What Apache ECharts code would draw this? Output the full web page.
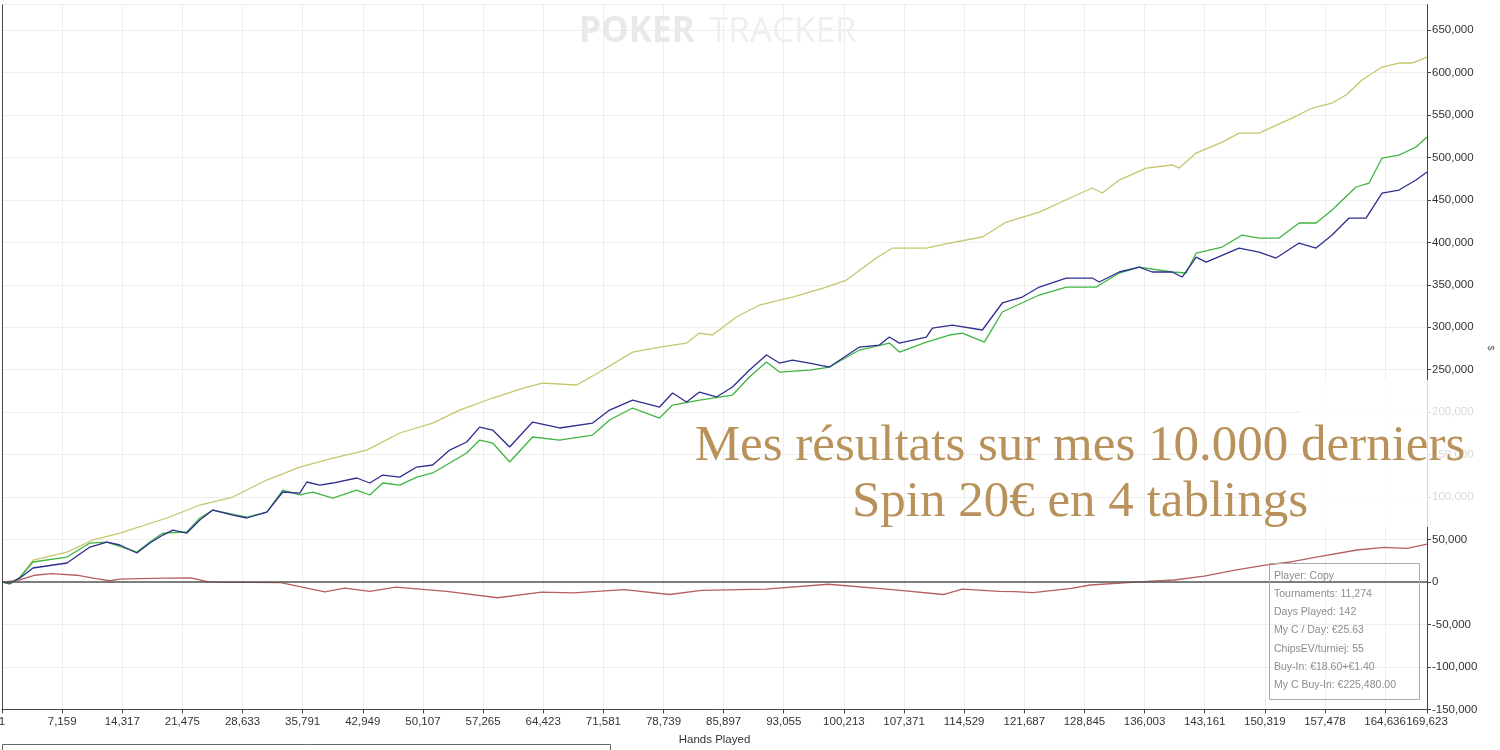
<!DOCTYPE html>
<html><head><meta charset="utf-8">
<script src="https://cdn.jsdelivr.net/npm/echarts@6/dist/echarts.min.js"></script>
<style>html,body{margin:0;padding:0;background:#fff}#c{width:1500px;height:750px}</style>
</head><body><div id="c"></div>
<script>
const xTickLabels = ['1','7,159','14,317','21,475','28,633','35,791','42,949','50,107','57,265','64,423','71,581','78,739','85,897','93,055','100,213','107,371','114,529','121,687','128,845','136,003','143,161','150,319','157,478','164,636','169,623'];
const infoLines = ['Player: Copy','Tournaments: 11,274','Days Played: 142','My C / Day: \u20ac25.63','ChipsEV/turniej: 55','Buy-In: \u20ac18.60+\u20ac1.40','My C Buy-In: \u20ac225,480.00'];
const titleLines = ['Mes r\u00e9sultats sur mes 10.000 derniers','Spin 20\u20ac en 4 tablings'];

const yellowPts = [[0,0],[952,-500],[2141,4700],[3687,25900],[7732,35300],[10825,49500],[14036,57700],[19627,75400],[23552,90700],[27477,100100],[31522,120100],[35447,135400],[39372,146000],[43417,155400],[47342,175500],[51267,187200],[54479,202500],[58404,216700],[62449,229600],[64352,234300],[68396,232000],[71132,247300],[75057,270800],[78269,276700],[81481,281400],[83027,293200],[84573,290900],[87428,312100],[90164,326200],[92543,332100],[94089,335600],[98134,347400],[100513,355600],[104081,381500],[105986,393300],[110030,393300],[112765,399200],[116690,406300],[119545,423900],[123470,435700],[127396,453400],[129775,464000],[130964,458100],[132986,473400],[136198,487500],[139290,491100],[140123,487500],[142145,505200],[145238,518100],[147260,528700],[149639,528700],[151185,535800],[153564,546400],[155943,558200],[158322,564100],[159988,573500],[161891,591200],[164270,606500],[166292,611200],[167838,611200],[169622,618200]];

const greenPts = [[0,0],[952,-2400],[2141,5900],[3687,23600],[7732,29400],[10468,45900],[12490,47100],[16058,35300],[17605,47100],[19151,57700],[22006,58900],[23552,75400],[25099,84800],[29143,76500],[31522,82400],[33425,108300],[35447,102500],[36993,106000],[39372,98900],[42227,108300],[43774,102500],[45320,116600],[47342,114200],[49364,123600],[51267,128400],[53290,140100],[55312,151900],[56858,167200],[58404,163700],[60426,141300],[63162,170800],[66374,167200],[70299,173100],[72322,190800],[75057,204900],[78269,193100],[79816,208400],[83027,214300],[86952,220200],[88975,241400],[90997,259100],[92543,247300],[96112,249600],[98491,253200],[102059,273200],[105630,281400],[106819,270800],[110030,282600],[112765,290900],[114311,293200],[116930,282600],[119069,318000],[123470,338000],[126680,347400],[130250,347400],[132986,363900],[135365,370900],[139290,365100],[140956,363900],[142145,387400],[145238,394500],[147617,408600],[149639,405100],[152018,405100],[154397,422800],[156419,422800],[158322,438100],[161177,465200],[162723,469900],[164270,499300],[166292,502800],[168314,512300],[169622,524000]];

const bluePts = [[0,0],[952,-1200],[2141,4700],[3687,16500],[7732,22400],[10468,41200],[12490,47100],[14036,43600],[16058,34200],[17605,45900],[19151,55300],[20340,61200],[22006,57700],[23552,73000],[25099,84800],[27477,78900],[29143,75400],[31522,82400],[33425,106000],[35447,104800],[36280,117800],[37826,114200],[39372,116600],[42227,122500],[43774,116600],[45320,126000],[47342,123600],[49364,135400],[51267,137800],[53290,155400],[55312,164900],[56858,182500],[58404,179000],[60426,159000],[63162,188400],[66374,181400],[70299,187200],[72322,202500],[75057,214300],[78269,206100],[79816,222600],[81481,212000],[83027,223700],[85049,217900],[86952,229600],[88975,249600],[90997,267300],[92543,257900],[94089,261400],[96112,257900],[98491,253200],[102059,276700],[104440,279100],[105630,288500],[106819,281400],[110030,288500],[110744,299100],[113120,302600],[116690,296800],[119069,328600],[121450,335600],[123470,347400],[126680,358000],[129775,358000],[130607,353300],[132986,365100],[135365,370900],[136912,365100],[139290,365100],[140480,359200],[142145,382700],[143335,376800],[147260,393300],[149639,388600],[151661,381500],[154397,399200],[156419,393300],[158322,408600],[160345,428600],[162367,428600],[164270,458100],[166292,461600],[168314,473400],[169622,482800]];

const redPts = [[0,0],[2022,2300],[3925,8000],[5829,10000],[8921,8000],[11181,4100],[12847,1500],[14036,3500],[16415,4100],[19627,4700],[22482,4900],[23552,2400],[24742,0],[33187,-750],[38421,-11700],[40800,-7200],[43774,-10900],[46866,-6000],[52933,-10900],[59000,-18500],[64233,-12000],[68039,-12800],[74106,-9000],[79459,-14700],[83265,-9800],[90878,-8300],[98372,-2600],[105986,-9000],[112050,-14700],[114311,-8300],[118712,-10900],[120496,-11400],[122756,-12500],[127277,-7500],[129537,-3500],[135841,400],[139528,2400],[143097,7000],[146784,14100],[150353,20000],[153564,23900],[156776,29800],[161296,37700],[164508,40800],[167244,39700],[169622,44700]];

const TICK = 7158, XMAX = 169622;
const chart = echarts.init(document.getElementById('c'), null, {renderer:'canvas'});
const fmtY = v => Number(v).toLocaleString('en-US');
const lbl = {color:'#333', fontSize:11.5, fontFamily:'Liberation Sans, Arial, sans-serif'};
function line(name, pts, color, extra){
  return Object.assign({name, type:'line', data:pts, showSymbol:false, symbol:'none', silent:true,
    lineStyle:{color, width:1.3}, itemStyle:{color}}, extra||{});
}
const graphics = [
  {type:'text', left:579, top:15, z:5, style:{text:'POKER', fill:'#e9e9e9', font:'bold 35px "Open Sans"'}},
  {type:'text', left:709, top:15, z:5, style:{text:'TRACKER', fill:'#efefef', font:'35px "Open Sans"'}},
  {type:'line', shape:{x1:2.5, y1:4.6, x2:2.5, y2:709.4}, z:40, style:{stroke:'#444', lineWidth:1}},
  {type:'rect', shape:{x:1300, y:380, width:200, height:147}, z:50, style:{fill:'rgba(255,255,255,0.8)'}},
  {type:'rect', shape:{x:1269.5, y:563.5, width:150, height:136}, z:60, style:{fill:'none', stroke:'#aaaaaa', lineWidth:1}},
  {type:'rect', shape:{x:2.5, y:744.5, width:608, height:30}, z:60, style:{fill:'none', stroke:'#666', lineWidth:1}},
  {type:'text', x:1490, y:348, z:60, rotation:-Math.PI/2, style:{text:'$', fill:'#555', font:'9px "Liberation Sans"', textAlign:'center', textVerticalAlign:'middle'}}
];
titleLines.forEach((t,i)=>graphics.push({type:'text', x:1080, y:447+i*56, z:70,
  style:{text:t, fill:'#b8925a', font:'51px "Liberation Serif"', textAlign:'center', textVerticalAlign:'middle'}}));
infoLines.forEach((t,i)=>graphics.push({type:'text', x:1274, y:576+i*18.2, z:60,
  style:{text:t, fill:'#8c8c8c', font:'10.5px "Liberation Sans"', textVerticalAlign:'middle'}}));

chart.setOption({
  animation:false,
  backgroundColor:'#fff',
  grid:{left:2, right:73, top:4.6, bottom:40.6, containLabel:false, outerBoundsMode:'none'},
  xAxis:{type:'value', min:0, max:XMAX, interval:TICK,
    axisLine:{show:true, onZero:false, lineStyle:{color:'#444', width:1}},
    axisTick:{show:true, inside:false, length:4, lineStyle:{color:'#444'}},
    axisLabel:Object.assign({margin:6, showMinLabel:true, showMaxLabel:true,
      formatter:v => v >= XMAX ? xTickLabels[xTickLabels.length-1] : xTickLabels[Math.round(v/TICK)]}, lbl),
    splitLine:{show:true, lineStyle:{color:'#eeeeee'}},
    name:'Hands Played', nameLocation:'middle', nameGap:24, nameTextStyle:lbl},
  yAxis:{type:'value', position:'right', min:-150000, max:680000, interval:50000,
      axisLine:{show:true, onZero:false, lineStyle:{color:'#444'}},
      axisTick:{show:true, inside:false, length:4, lineStyle:{color:'#444'}},
      axisLabel:Object.assign({margin:5, showMaxLabel:false, formatter:fmtY}, lbl),
      splitLine:{show:true, lineStyle:{color:'#eeeeee'}}},
  series:[
    line('Red', redPts, '#b5605e', {markLine:{silent:true, symbol:['none','none'], label:{show:false},
      lineStyle:{color:'#555', width:1.5, type:'solid'}, data:[{yAxis:0}]}}),
    line('Yellow', yellowPts, '#c6c66c'),
    line('Green', greenPts, '#3fb542'),
    line('Blue', bluePts, '#2e2e90')
  ],
  graphic:graphics
});
</script></body></html>
